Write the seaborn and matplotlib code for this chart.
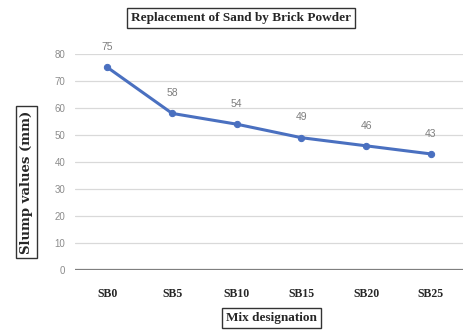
import matplotlib
matplotlib.use("Agg")
import matplotlib.pyplot as plt
import seaborn as sns
import pandas as pd

mixes = ["SB0", "SB5", "SB10", "SB15", "SB20", "SB25"]
slump = [75, 58, 54, 49, 46, 43]
y_ticks = [0, 10, 20, 30, 40, 50, 60, 70, 80]

df = pd.DataFrame({"mix": mixes, "slump": slump})

sns.set_theme(style="white")
fig = plt.figure(figsize=(4.64, 3.31), dpi=100)
ax = fig.add_axes([0.162, 0.184, 0.836, 0.653])

sns.lineplot(data=df, x="mix", y="slump", ax=ax, color="#4a70c0",
             linewidth=2.2, marker="o", markersize=4.5,
             markeredgecolor="#4a70c0", sort=False)

ax.set_xlim(-0.5, len(mixes) - 0.5)
ax.set_ylim(0, 80)
ax.set_yticks(y_ticks)
ax.yaxis.grid(True, color="#d9d9d9", linewidth=0.9)
ax.set_axisbelow(True)
for s in ["top", "right", "left", "bottom"]:
    ax.spines[s].set_visible(False)
ax.axhline(0, color="#7f7f7f", linewidth=1.6, zorder=1)

ax.tick_params(axis="y", length=0, pad=7, labelsize=7, labelcolor="#8c8c8c")
ax.tick_params(axis="x", length=0, pad=13)
for lab in ax.get_yticklabels():
    lab.set_fontfamily("Liberation Sans")
for lab in ax.get_xticklabels():
    lab.set_fontfamily("Liberation Serif")
    lab.set_fontweight("bold")
    lab.set_fontsize(8.5)
    lab.set_color("#262626")

ax.set_xlabel("")
ax.set_ylabel("")

for i, v in enumerate(slump):
    ax.annotate(str(v), (i, v), xytext=(0, 11), textcoords="offset points",
                ha="center", va="bottom", fontsize=7.5, color="#7f7f7f",
                fontfamily="Liberation Sans")

box = dict(boxstyle="square,pad=0.3", facecolor="white", edgecolor="#333333",
           linewidth=1.0)
fig.text(0.52, 0.946, "Replacement of Sand by Brick Powder", ha="center",
         va="center", fontsize=9.5, fontweight="bold", family="Liberation Serif",
         color="#262626", bbox=box)
fig.text(0.585, 0.04, "Mix designation", ha="center", va="center",
         fontsize=9.5, fontweight="bold", family="Liberation Serif",
         color="#262626", bbox=box)
fig.text(0.058, 0.45, "Slump values (mm)", ha="center", va="center",
         rotation=90, fontsize=9.5, fontweight="bold", family="DejaVu Serif",
         color="#262626", bbox=box)

fig.savefig("out.png", dpi=100)
